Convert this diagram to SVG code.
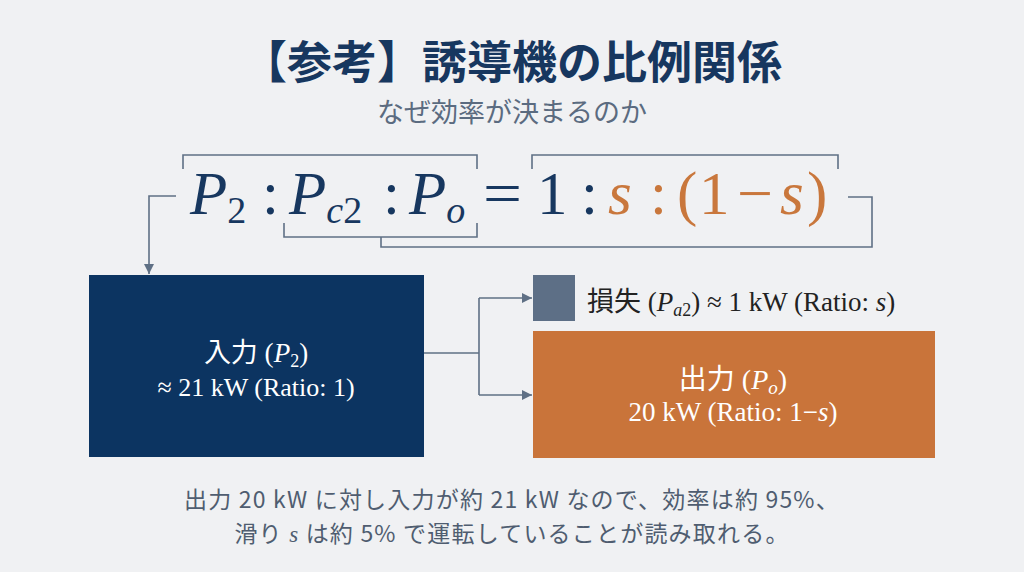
<svg xmlns="http://www.w3.org/2000/svg" width="1024" height="572" viewBox="0 0 1024 572">
<defs>
<marker id="ah" viewBox="0 0 10 10" refX="10" refY="5" markerWidth="10" markerHeight="10" markerUnits="userSpaceOnUse" orient="auto">
<path d="M0,0 L10,5 L0,10 Z" fill="#5f7085"/>
</marker>
<style>
.cjk{font-family:"Noto Sans CJK JP","Noto Sans",sans-serif}
.m{font-family:"Liberation Serif","Noto Sans CJK JP",serif}
.i{font-style:italic}
.n{font-style:normal}
.ln{fill:none;stroke:#5f7085;stroke-width:1.6}
.eq{font-family:"Liberation Serif",serif;font-size:61px;fill:#17375f}
.or{fill:#c9773c}
</style>
</defs>
<rect width="1024" height="572" fill="#f0f1f3"/>
<g id="title">
<text x="512" y="79" text-anchor="middle" class="cjk" font-size="45" font-weight="700" fill="#17375f">【参考】誘導機の比例関係</text>
<text x="512" y="122" text-anchor="middle" class="cjk" font-size="27" fill="#5b6b80">なぜ効率が決まるのか</text>
</g>
<g id="equation" class="eq">
<text x="190" y="214" class="i">P<tspan class="n" font-size="38" dy="9">2</tspan></text>
<text x="262" y="214">:</text>
<text x="289" y="214" class="i">P<tspan font-size="38" dy="9">c</tspan><tspan class="n" font-size="38">2</tspan></text>
<text x="383" y="214">:</text>
<text x="409" y="214" class="i">P<tspan font-size="38" dy="9">o</tspan></text>
<text x="483" y="214" textLength="39" lengthAdjust="spacingAndGlyphs">=</text>
<text x="537" y="214">1</text>
<text x="581" y="214">:</text>
<text x="608" y="214" class="i or">s</text>
<text x="650" y="214" class="or">:</text>
<text x="677" y="214" class="or">(</text>
<text x="699" y="214" class="or">1</text>
<text x="737" y="214" class="or" textLength="36" lengthAdjust="spacingAndGlyphs">−</text>
<text x="780" y="214" class="i or">s</text>
<text x="807" y="214" class="or">)</text>
</g>
<g id="connectors">
<path class="ln" d="M183,169 V155 H477 V169"/>
<path class="ln" d="M532,169 V155 H838 V169"/>
<path class="ln" d="M284,223 V237 H477 V223"/>
<path class="ln" d="M381,237 V247 H872 V197 H848"/>
<path class="ln" d="M176,196 H149 V274" marker-end="url(#ah)"/>
<path class="ln" d="M424,353 H479"/>
<path class="ln" d="M479,298 V395"/>
<path class="ln" d="M479,298 H532" marker-end="url(#ah)"/>
<path class="ln" d="M479,395 H532" marker-end="url(#ah)"/>
</g>
<g id="input">
<rect x="89" y="275" width="335" height="182" fill="#0c3461"/>
<text x="256" y="362" text-anchor="middle" class="m" font-size="27" fill="#ffffff">入力 (<tspan class="i">P</tspan><tspan font-size="18" dy="5">2</tspan><tspan dy="-5">)</tspan></text>
<text x="256" y="396" text-anchor="middle" class="m" font-size="26" fill="#ffffff">≈ 21 kW (Ratio: 1)</text>
</g>
<g id="loss">
<rect x="533" y="275" width="42" height="46" fill="#5d6f86"/>
<text x="587" y="311" class="m" font-size="27" fill="#222222">損失 (<tspan class="i">P</tspan><tspan class="i" font-size="18" dy="5">a</tspan><tspan font-size="18">2</tspan><tspan dy="-5">) ≈ 1 kW (Ratio: </tspan><tspan class="i">s</tspan>)</text>
</g>
<g id="output">
<rect x="533" y="331" width="402" height="127" fill="#c9743a"/>
<text x="733" y="389" text-anchor="middle" class="m" font-size="28" fill="#ffffff">出力 (<tspan class="i">P</tspan><tspan class="i" font-size="19" dy="5">o</tspan><tspan dy="-5">)</tspan></text>
<text x="733" y="421" text-anchor="middle" class="m" font-size="27" fill="#ffffff">20 kW (Ratio: 1−<tspan class="i">s</tspan>)</text>
</g>
<g id="note" class="cjk" font-size="23" fill="#4f5d70" letter-spacing="1.2">
<text x="512" y="508" text-anchor="middle">出力 20 kW に対し入力が約 21 kW なので、効率は約 95%、</text>
<text x="512" y="542" text-anchor="middle">滑り <tspan class="m i">s</tspan> は約 5% で運転していることが読み取れる。</text>
</g>
</svg>
